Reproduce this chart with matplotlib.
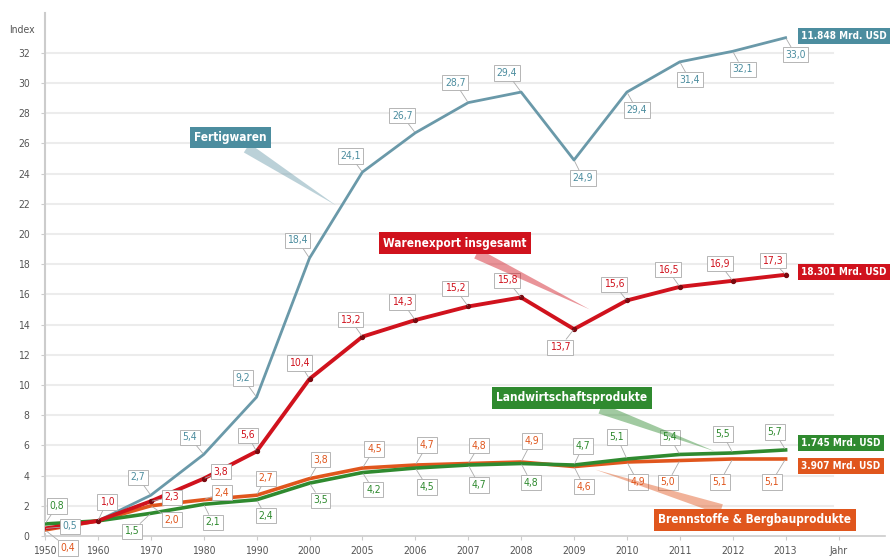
import matplotlib.pyplot as plt
from matplotlib import font_manager as fm

years = ['1950', '1960', '1970', '1980', '1990', '2000', '2005', '2006',
         '2007', '2008', '2009', '2010', '2011', '2012', '2013']

fertigwaren = [0.5, 1.0, 2.7, 5.4, 9.2, 18.4, 24.1, 26.7, 28.7, 29.4, 24.9, 29.4, 31.4, 32.1, 33.0]
gesamt = [0.5, 1.0, 2.3, 3.8, 5.6, 10.4, 13.2, 14.3, 15.2, 15.8, 13.7, 15.6, 16.5, 16.9, 17.3]
landwirtschaft = [0.8, 1.0, 1.5, 2.1, 2.4, 3.5, 4.2, 4.5, 4.7, 4.8, 4.7, 5.1, 5.4, 5.5, 5.7]
brennstoffe = [0.4, 1.0, 2.0, 2.4, 2.7, 3.8, 4.5, 4.7, 4.8, 4.9, 4.6, 4.9, 5.0, 5.1, 5.1]

end_labels = ['11.848 Mrd. USD', '18.301 Mrd. USD', '1.745 Mrd. USD', '3.907 Mrd. USD']

# label offsets in pixels (dx, dy), None = no label
off_f = [(25, 2), None, (-13, 18), (-14, 17), (-14, 19), (-12, 18), (-12, 16), (-13, 17),
         (-13, 20), (-14, 19), (9, -18), (10, -18), (10, -18), (10, -18), (10, -17)]
off_g = [None, (9, 19), (21, 4), (17, 7), (-9, 16), (-10, 16), (-12, 17), (-13, 18),
         (-13, 18), (-14, 17), (-14, -18), (-13, 16), (-12, 17), (-13, 17), (-13, 14)]
off_l = [(12, 18), None, (-19, -18), (9, -18), (9, -16), (11, -17), (11, -17), (12, -19),
         (11, -20), (10, -19), (9, 19), (-10, 22), (-10, 17), (-10, 19), (-11, 18)]
off_b = [(23, -18), None, (21, -14), (18, 7), (9, 17), (11, 19), (12, 19), (12, 20),
         (11, 18), (11, 21), (10, -20), (11, -20), (-12, -22), (-13, -23), (-14, -23)]

c_f = '#6a99a9'
c_f_box = '#4c8d9f'
c_g = '#d0121d'
c_l = '#2f8a2f'
c_b = '#e0561d'

# pick a narrow font if one is installed
names = {f.name for f in fm.fontManager.ttflist}
narrow = [f for f in fm.fontManager.ttflist if f.stretch in ('condensed', 'semi-condensed', 'extra-condensed')]
if 'Liberation Sans Narrow' in names:
    plt.rcParams['font.family'] = ['Liberation Sans Narrow', 'DejaVu Sans']
elif narrow:
    plt.rcParams['font.family'] = [narrow[0].name, 'DejaVu Sans']
    plt.rcParams['font.stretch'] = narrow[0].stretch
else:
    plt.rcParams['font.family'] = ['DejaVu Sans']

fig = plt.figure(figsize=(8.91, 5.59), dpi=100)
ax = fig.add_axes([45/891, 23/559, 840/891, 523/559])
x = list(range(len(years)))

ax.set_xlim(0, 840/52.9)
ax.set_ylim(0, 523/15.1)

for yv in range(2, 33, 2):
    ax.plot([0, 14.9], [yv, yv], color='#ececec', lw=1.5, zorder=0)

ax.plot(x, fertigwaren, color=c_f, lw=2, zorder=3)
ax.plot(x, gesamt, color=c_g, lw=2.8, zorder=4)
ax.plot(x, brennstoffe, color='white', lw=4.5, zorder=2)
ax.plot(x, landwirtschaft, color='white', lw=4.5, zorder=2)
ax.plot(x, brennstoffe, color=c_b, lw=2.6, zorder=3)
ax.plot(x, landwirtschaft, color=c_l, lw=2.6, zorder=3)
ax.scatter(x[1:], gesamt[1:], s=8, color='#7a0a10', zorder=5)


def labels(vals, offs, col):
    for i in range(len(vals)):
        if offs[i] is None:
            continue
        txt = ('%.1f' % vals[i]).replace('.', ',')
        ax.annotate(txt, (x[i], vals[i]), xytext=offs[i], textcoords='offset pixels',
                    ha='center', va='center', fontsize=7.5, color=col, zorder=6,
                    bbox=dict(boxstyle='square,pad=0.25', fc='white', ec='#aaaaaa', lw=0.6),
                    arrowprops=dict(arrowstyle='-', color='#aaaaaa', lw=0.6,
                                    shrinkA=0, shrinkB=1))


labels(fertigwaren, off_f, c_f_box)
labels(gesamt, off_g, c_g)
labels(landwirtschaft, off_l, c_l)
labels(brennstoffe, off_b, c_b)

# end value boxes
ends = [(0, c_f_box, 33.1), (1, c_g, 17.5), (2, c_l, 6.16), (3, c_b, 4.64)]
for k, col, yy in ends:
    ax.text(14.3, yy, end_labels[k], ha='left', va='center', fontsize=7.2,
            color='white', fontweight='bold', zorder=7,
            bbox=dict(boxstyle='square,pad=0.3', fc=col, ec='none'))

# series callouts
callouts = [('Fertigwaren', (3.5, 26.4), (5.5, 21.9), c_f_box, c_f),
            ('Warenexport insgesamt', (7.75, 19.4), (10.3, 15.0), c_g, c_g),
            ('Landwirtschaftsprodukte', (9.96, 9.14), (12.67, 5.6), c_l, c_l),
            ('Brennstoffe & Bergbauprodukte', (13.42, 1.06), (10.4, 4.4), c_b, c_b)]
for txt, pos, tip, col, wcol in callouts:
    ax.annotate(txt, tip, xytext=pos, ha='center', va='center', fontsize=8.5,
                color='white', fontweight='bold', zorder=8,
                bbox=dict(boxstyle='square,pad=0.35', fc=col, ec='none'),
                arrowprops=dict(arrowstyle='wedge,tail_width=0.9', fc=wcol, ec='none',
                                alpha=0.45, shrinkA=0, shrinkB=0))

ax.set_xticks(x + [15])
ax.set_xticklabels(years + ['Jahr'], fontsize=7.5, color='#555555')
ax.set_yticks(range(0, 33, 2))
ax.set_yticklabels([str(v) for v in range(0, 33, 2)], fontsize=7.5, color='#555555')
ax.tick_params(axis='both', length=3, color='#cccccc')
ax.tick_params(axis='y', pad=8)
ax.tick_params(axis='x', pad=4)
for s in ['top', 'right']:
    ax.spines[s].set_visible(False)
ax.spines['left'].set_color('#cccccc')
ax.spines['left'].set_linewidth(1.5)
ax.spines['bottom'].set_color('#cccccc')
ax.spines['bottom'].set_linewidth(1.2)
ax.spines['left'].set_zorder(1)

fig.text(22/891, 1 - 30/559, 'Index', fontsize=7.5, color='#555555', ha='center', va='center')

fig.savefig('out.png', dpi=100)
